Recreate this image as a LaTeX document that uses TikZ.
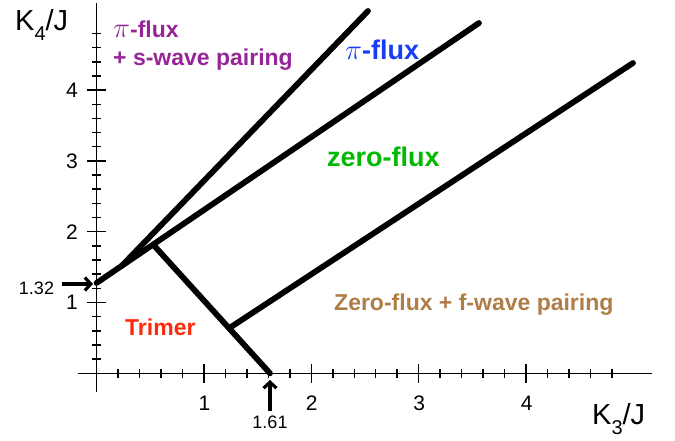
\documentclass[tikz,border=0pt]{standalone}
\usepackage{fontspec}
\setmainfont{Liberation Sans}
\usetikzlibrary{arrows.meta,calc}
\definecolor{cpurple}{RGB}{150,38,150}
\definecolor{cblue}{RGB}{25,60,250}
\definecolor{cgreen}{RGB}{0,185,0}
\definecolor{cbrown}{RGB}{175,125,70}
\definecolor{cred}{RGB}{255,40,10}
\tikzset{valarrow/.style={draw=black,line width=3.2pt,-{Straight Barb[length=6pt,width=13pt]}}}
\begin{document}
\begin{tikzpicture}[x=1pt,y=-1pt,
  axis/.style={line width=1.5pt},
  phase/.style={line width=5.8pt,line cap=round,line join=round},
  ticklab/.style={font=\fontsize{21}{25}\selectfont,inner sep=0pt},
  vallab/.style={font=\fontsize{18}{22}\selectfont,inner sep=0pt},
  axlab/.style={font=\fontsize{29}{34}\selectfont,inner sep=0pt,anchor=base west},
  region/.style={font=\fontsize{23}{28}\selectfont\bfseries,inner sep=0pt,anchor=base west,align=left},
  bigregion/.style={font=\fontsize{27}{32}\selectfont\bfseries,inner sep=0pt,anchor=base west}]
\useasboundingbox (0,0) rectangle (675,440);
% axes
\coordinate (xs) at (78,373.3);
\coordinate (xe) at (652,373.3);
\coordinate (ys) at (96.5,392);
\coordinate (ye) at (96.5,3);
\draw[axis] (xs) -- (xe);
\draw[axis] (ys) -- (ye);
\foreach \i in {1,...,24} {
  \draw[axis] ({96.5+21.48*\i},368.8) -- ({96.5+21.48*\i},377.8);
  \draw[axis] (92,{373.3-14.16*\i}) -- (101,{373.3-14.16*\i});
}
\foreach \k in {1,...,4} {
  \draw[axis] ({96.5+107.4*\k},363.8) -- ({96.5+107.4*\k},382.8);
  \draw[axis] (87,{373.3-70.8*\k}) -- (106,{373.3-70.8*\k});
  \node[ticklab] (xl\k) at ({97+107.4*\k},403) {\k};
  \node[ticklab] (yl\k) at (72,{373.3-70.8*\k}) {\k};
}
\node[axlab] (klab4) at (15,30) {K\raisebox{-0.35em}{\fontsize{20}{24}\selectfont 4}/J};
\node[axlab] (klab3) at (592,424) {K\raisebox{-0.35em}{\fontsize{20}{24}\selectfont 3}/J};
% phase boundaries
\coordinate (A) at (96.5,283);
\coordinate (T2) at (479,23);
\coordinate (B) at ($(A)!0.066!(T2)$);
\coordinate (T1) at (368,11);
\coordinate (C) at ($(A)!0.148!(T2)$);
\coordinate (D) at (270,373.3);
\coordinate (E) at ($(C)!0.65!(D)$);
\coordinate (F) at (633,63);
\draw[phase] (A) -- (T2);
\draw[phase] (B) -- (T1);
\draw[phase] (C) -- (D);
\draw[phase] (E) -- (F);
% markers
\node[vallab] (v132) at (36.5,288) {1.32};
\node[vallab] (v161) at (270,422.5) {1.61};
\coordinate (a132) at (93,284);
\coordinate (a161) at (270,380);
\coordinate (a132s) at (62,284);
\coordinate (a161s) at (270,411);
\path[valarrow] (a132s) -- (a132);
\path[valarrow] (a161s) -- (a161);
% region labels
\node[region,text=cpurple] (rpi) at (113,65) {\scalebox{1.15}{$\pi$}-flux\\+ s-wave pairing};
\node[bigregion,text=cblue] (rpiflux) at (345,59) {\scalebox{1.15}{$\pi$}-flux};
\node[bigregion,text=cgreen] (rzero) at (327,166) {zero-flux};
\node[region,text=cbrown] (rzf) at (334,310) {Zero-flux + f-wave pairing};
\node[region,text=cred] (rtri) at (125,335) {Trimer};
\end{tikzpicture}
\end{document}
